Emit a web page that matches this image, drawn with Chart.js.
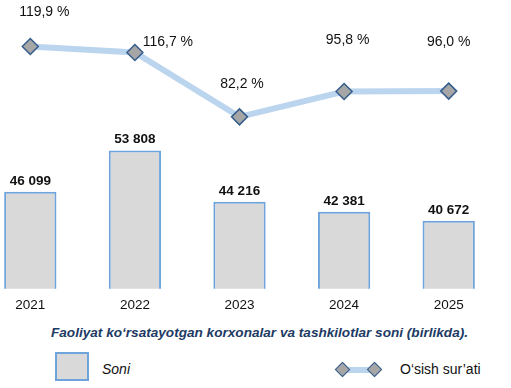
<!DOCTYPE html>
<html>
<head>
<meta charset="utf-8">
<script src="https://cdn.jsdelivr.net/npm/chart.js@4"></script>
<style>
  body { margin: 0; width: 511px; height: 388px; background: #fff; position: relative; overflow: hidden; font-family: "Liberation Sans", Arial, sans-serif; }
  #wrap { position: absolute; left: -22px; top: 0; width: 523px; height: 325px; }
  #caption { position: absolute; left: 0; width: 511px; top: 325px; text-align: center; font-size: 13.6px; font-weight: bold; font-style: italic; color: #203a64; padding-left: 8px; box-sizing: border-box; }
  .leg { position: absolute; top: 361px; font-size: 14px; color: #111; }
  #boxSoni { position: absolute; left: 55px; top: 352px; width: 30px; height: 25px; background: #d9d9d9; border: 2px solid #6fa3dc; }
  #lblSoni { left: 102px; font-style: italic; }
  #lineLeg { position: absolute; left: 335px; top: 361px; width: 49px; height: 18px; }
  #lineLeg .bar { position: absolute; left: 8px; right: 8px; top: 6px; height: 6px; background: #bcd5ee; }
  #lineLeg .dia { position: absolute; top: 3px; width: 9px; height: 9px; background: #a6a6a6; border: 1.5px solid #345d8c; transform: rotate(45deg); }
  #lblOsish { left: 400px; }
</style>
</head>
<body>
<div id="wrap"><canvas id="chart"></canvas></div>
<div id="caption">Faoliyat ko‘rsatayotgan korxonalar va tashkilotlar soni (birlikda).</div>
<div id="boxSoni"></div>
<div class="leg" id="lblSoni">Soni</div>
<div id="lineLeg"><div class="bar"></div><div class="dia" style="left:2px"></div><div class="dia" style="left:34px"></div></div>
<div class="leg" id="lblOsish">O‘sish sur’ati</div>
<script>
const years = ['2021', '2022', '2023', '2024', '2025'];
const soni = [46099, 53808, 44216, 42381, 40672];
const osish = [119.9, 116.7, 82.2, 95.8, 96.0];

// nudges for the percent labels, as placed in the original
const pctShift = [[14, -34.5], [33, -10.5], [2.5, -33], [3.5, -51.5], [0, -48.5]];

function fmtInt(v) {
    return String(v).replace(/\B(?=(\d{3})+(?!\d))/g, ' ');
}
function fmtPct(v) {
    return v.toFixed(1).replace('.', ',') + ' %';
}

const valueLabels = {
    id: 'valueLabels',
    afterDatasetsDraw(chart) {
        const ctx = chart.ctx;
        ctx.save();
        ctx.textAlign = 'center';
        ctx.fillStyle = '#111';
        ctx.textBaseline = 'alphabetic';
        ctx.font = 'bold 13.5px "Liberation Sans", Arial, sans-serif';
        chart.getDatasetMeta(0).data.forEach((bar, i) => {
            ctx.fillText(fmtInt(soni[i]), bar.x, bar.y - 7);
        });
        ctx.font = '14px "Liberation Sans", Arial, sans-serif';
        ctx.textBaseline = 'middle';
        chart.getDatasetMeta(1).data.forEach((pt, i) => {
            ctx.fillText(fmtPct(osish[i]), pt.x + pctShift[i][0], pt.y + pctShift[i][1]);
        });
        ctx.restore();
    }
};

const ctx = document.getElementById('chart').getContext('2d');
new Chart(ctx, {
    type: 'bar',
    data: {
        labels: years,
        datasets: [
            {
                type: 'bar',
                label: 'Soni',
                data: soni,
                yAxisID: 'y',
                backgroundColor: '#d9d9d9',
                borderColor: '#6fa3dc',
                borderWidth: 2,
                barPercentage: 0.5,
                categoryPercentage: 1,
                order: 2
            },
            {
                type: 'line',
                label: 'O‘sish sur’ati',
                data: osish,
                yAxisID: 'y1',
                borderColor: '#bcd5ee',
                borderWidth: 6,
                pointStyle: 'rectRot',
                pointRadius: 8,
                pointBackgroundColor: '#a6a6a6',
                pointBorderColor: '#345d8c',
                pointBorderWidth: 1.5,
                tension: 0,
                clip: false,
                order: 1
            }
        ]
    },
    options: {
        responsive: true,
        maintainAspectRatio: false,
        animation: false,
        layout: { autoPadding: false, padding: { top: 10, bottom: 4, left: 0, right: 0 } },
        plugins: {
            legend: { display: false },
            tooltip: { enabled: false }
        },
        scales: {
            x: {
                grid: { display: false, drawTicks: false },
                border: { display: false },
                ticks: { color: '#111', font: { size: 13.5, family: '"Liberation Sans", Arial, sans-serif' }, padding: 8 }
            },
            y: { display: false, min: 28000, max: 80000 },
            y1: { display: false, min: -10, max: 139.5 }
        }
    },
    plugins: [valueLabels]
});
</script>
</body>
</html>
